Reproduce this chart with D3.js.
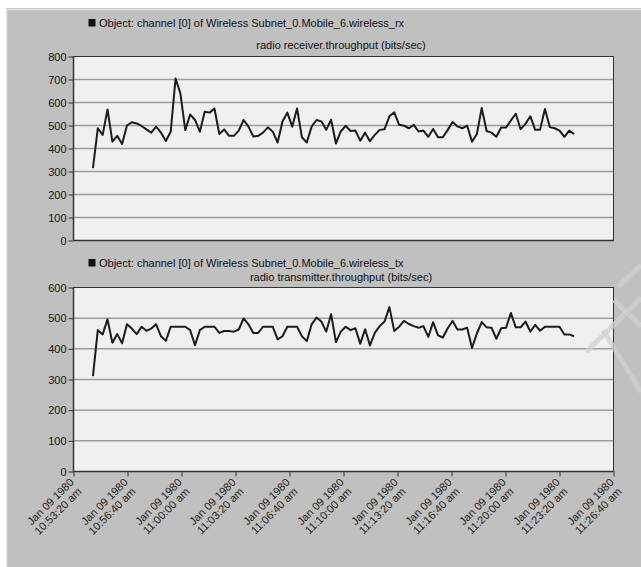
<!DOCTYPE html>
<html>
<head>
<meta charset="utf-8">
<script src="https://cdn.jsdelivr.net/npm/d3@7"></script>
<style>
  body { margin: 0; background: #ffffff; }
  svg { display: block; font-family: Arial, "Liberation Sans", sans-serif; }
</style>
</head>
<body>
<svg id="chart" width="641" height="567"></svg>
<script>
// Radio receiver throughput samples (bits/sec)
const rxValues = [
  315, 488, 459, 570, 430, 455, 420, 500, 514, 509,
  498, 483, 469, 495, 469, 433, 473, 704, 639, 480,
  548, 524, 473, 560, 556, 574, 463, 483, 455, 455,
  478, 524, 495, 452, 455, 469, 492, 473, 426, 517,
  556, 495, 574, 449, 426, 495, 524, 518, 481, 525,
  422, 474, 499, 476, 478, 434, 469, 432, 459, 481,
  484, 540, 557, 503, 499, 488, 503, 474, 478, 451,
  485, 449, 449, 481, 515, 496, 488, 499, 429, 463,
  576, 476, 469, 451, 491, 491, 522, 551, 484, 507,
  540, 481, 481, 572, 493, 488, 478, 451, 478, 463
];

// Radio transmitter throughput samples (bits/sec)
const txValues = [
  311, 461, 447, 496, 420, 448, 418, 480, 466, 448,
  472, 459, 466, 480, 441, 426, 472, 472, 472, 472,
  461, 412, 461, 472, 472, 472, 452, 458, 458, 456,
  463, 499, 480, 452, 452, 472, 472, 472, 431, 441,
  472, 472, 472, 441, 425, 480, 502, 489, 456, 513,
  422, 456, 472, 461, 467, 417, 464, 411, 452, 474,
  489, 536, 458, 472, 491, 481, 474, 469, 474, 439,
  487, 444, 437, 467, 491, 463, 463, 469, 403, 450,
  487, 470, 469, 433, 467, 469, 517, 470, 470, 489,
  456, 478, 459, 472, 472, 472, 472, 447, 447, 441
];

// Time axis: tick times on Jan 09 1980
const xTickTimes = [
  "10:53:20", "10:56:40", "11:00:00", "11:03:20", "11:06:40", "11:10:00",
  "11:13:20", "11:16:40", "11:20:00", "11:23:20", "11:26:40"
];
const sampleStartTime = "10:54:32";
const sampleStepSeconds = 18;

const rxTicks = [0, 100, 200, 300, 400, 500, 600, 700, 800];
const txTicks = [0, 100, 200, 300, 400, 500, 600];

const rxLegend = "Object: channel [0] of Wireless Subnet_0.Mobile_6.wireless_rx";
const rxTitle = "radio receiver.throughput (bits/sec)";
const txLegend = "Object: channel [0] of Wireless Subnet_0.Mobile_6.wireless_tx";
const txTitle = "radio transmitter.throughput (bits/sec)";

// ---------------------------------------------------------------
const parseTime = d3.timeParse("%Y-%m-%d %H:%M:%S");
const toDate = t => parseTime("1980-01-09 " + t);
const tickDates = xTickTimes.map(toDate);
const start = toDate(sampleStartTime);
const sampleDates = rxValues.map((_, i) => new Date(start.getTime() + i * sampleStepSeconds * 1000));

const svg = d3.select("#chart");

// window panel
svg.append("rect").attr("x", 0).attr("y", 0).attr("width", 641).attr("height", 567).attr("fill", "#ffffff");
svg.append("rect").attr("x", 6).attr("y", 8).attr("width", 635).attr("height", 559).attr("fill", "#c0c0c0");
svg.append("path").attr("d", "M6.5,567V9.5H641").attr("fill", "none").attr("stroke", "#e2e2e2").attr("stroke-width", 1.5);

const left = 73.5, right = 613.5;
const x = d3.scaleTime().domain([tickDates[0], tickDates[tickDates.length - 1]]).range([left, right]);

const fmtDate = d3.timeFormat("%b %d %Y");
const fmtClock = d => d3.timeFormat("%I:%M:%S %p")(d).toLowerCase();

function panel(cfg) {
  const g = svg.append("g");
  const y = d3.scaleLinear().domain([0, cfg.max]).range([cfg.bottom, cfg.top]);

  // legend line
  g.append("rect").attr("x", 88.5).attr("y", cfg.legendY - 8).attr("width", 7).attr("height", 7.5).attr("fill", "#111");
  g.append("text").attr("x", 99).attr("y", cfg.legendY).attr("font-size", 11).attr("fill", "#111").text(cfg.legend);
  g.append("text").attr("x", 341).attr("y", cfg.titleY).attr("font-size", 11).attr("fill", "#111")
    .attr("text-anchor", "middle").text(cfg.title);

  // plot area
  g.append("rect").attr("x", left).attr("y", cfg.top).attr("width", right - left).attr("height", cfg.bottom - cfg.top)
    .attr("fill", "#f0f0f0");

  // horizontal grid
  g.append("g").selectAll("line").data(cfg.ticks.slice(1, -1)).join("line")
    .attr("x1", left).attr("x2", right)
    .attr("y1", d => y(d)).attr("y2", d => y(d))
    .attr("stroke", "#9c9c9c").attr("stroke-width", 1.5);

  // y axis
  const ya = g.append("g").attr("transform", `translate(${left},0)`)
    .call(d3.axisLeft(y).tickValues(cfg.ticks).tickSize(5).tickPadding(2));
  ya.select(".domain").remove();
  ya.selectAll("line").attr("stroke", "#333");
  ya.selectAll("text").attr("font-size", 11).attr("fill", "#111").attr("font-family", "Arial, 'Liberation Sans', sans-serif");

  // frame
  g.append("rect").attr("x", left).attr("y", cfg.top).attr("width", right - left).attr("height", cfg.bottom - cfg.top)
    .attr("fill", "none").attr("stroke", "#333").attr("stroke-width", 1);
  g.append("line").attr("x1", left).attr("x2", left).attr("y1", cfg.top).attr("y2", cfg.bottom)
    .attr("stroke", "#333").attr("stroke-width", 1.5);
  g.append("line").attr("x1", left).attr("x2", right).attr("y1", cfg.bottom).attr("y2", cfg.bottom)
    .attr("stroke", "#333").attr("stroke-width", 1.5);

  // series
  const line = d3.line().x((d, i) => x(sampleDates[i])).y(d => y(d));
  g.append("path").datum(cfg.values).attr("d", line)
    .attr("fill", "none").attr("stroke", "#1c1c1c").attr("stroke-width", 2).attr("stroke-linejoin", "round");

  return { g, y };
}

panel({ values: rxValues, max: 800, ticks: rxTicks, top: 56.5, bottom: 240.5,
        legend: rxLegend, title: rxTitle, legendY: 27, titleY: 49 });

const tx = panel({ values: txValues, max: 600, ticks: txTicks, top: 287.5, bottom: 471.5,
        legend: txLegend, title: txTitle, legendY: 267, titleY: 281 });

// time axis below the lower plot
const xa = tx.g.append("g").attr("transform", "translate(0,471.5)")
  .call(d3.axisBottom(x).tickValues(tickDates).tickSize(5).tickFormat(""));
xa.select(".domain").remove();
xa.selectAll("line").attr("stroke", "#333");

const lab = tx.g.append("g").selectAll("g").data(tickDates).join("g")
  .attr("transform", d => `translate(${x(d) + 1},${483}) rotate(-45)`);
lab.append("text").attr("x", 0).attr("y", 0).attr("text-anchor", "end")
  .attr("font-size", 11).attr("fill", "#222").text(d => fmtDate(d));
lab.append("text").attr("x", -1).attr("y", 12).attr("text-anchor", "end")
  .attr("font-size", 11).attr("fill", "#222").text(d => fmtClock(d));

// faint diagonal stamp at the right edge
const stamp = svg.append("g").attr("fill", "none").attr("stroke", "#d0d0d0").attr("stroke-opacity", 0.75)
  .attr("stroke-width", 5).attr("stroke-linecap", "butt");
stamp.append("path").attr("d", "M586,352L641,298");
stamp.append("path").attr("d", "M603,330L641,392");
stamp.append("path").attr("d", "M614,300L641,326");
stamp.append("path").attr("d", "M618,287L641,265");
</script>
</body>
</html>
